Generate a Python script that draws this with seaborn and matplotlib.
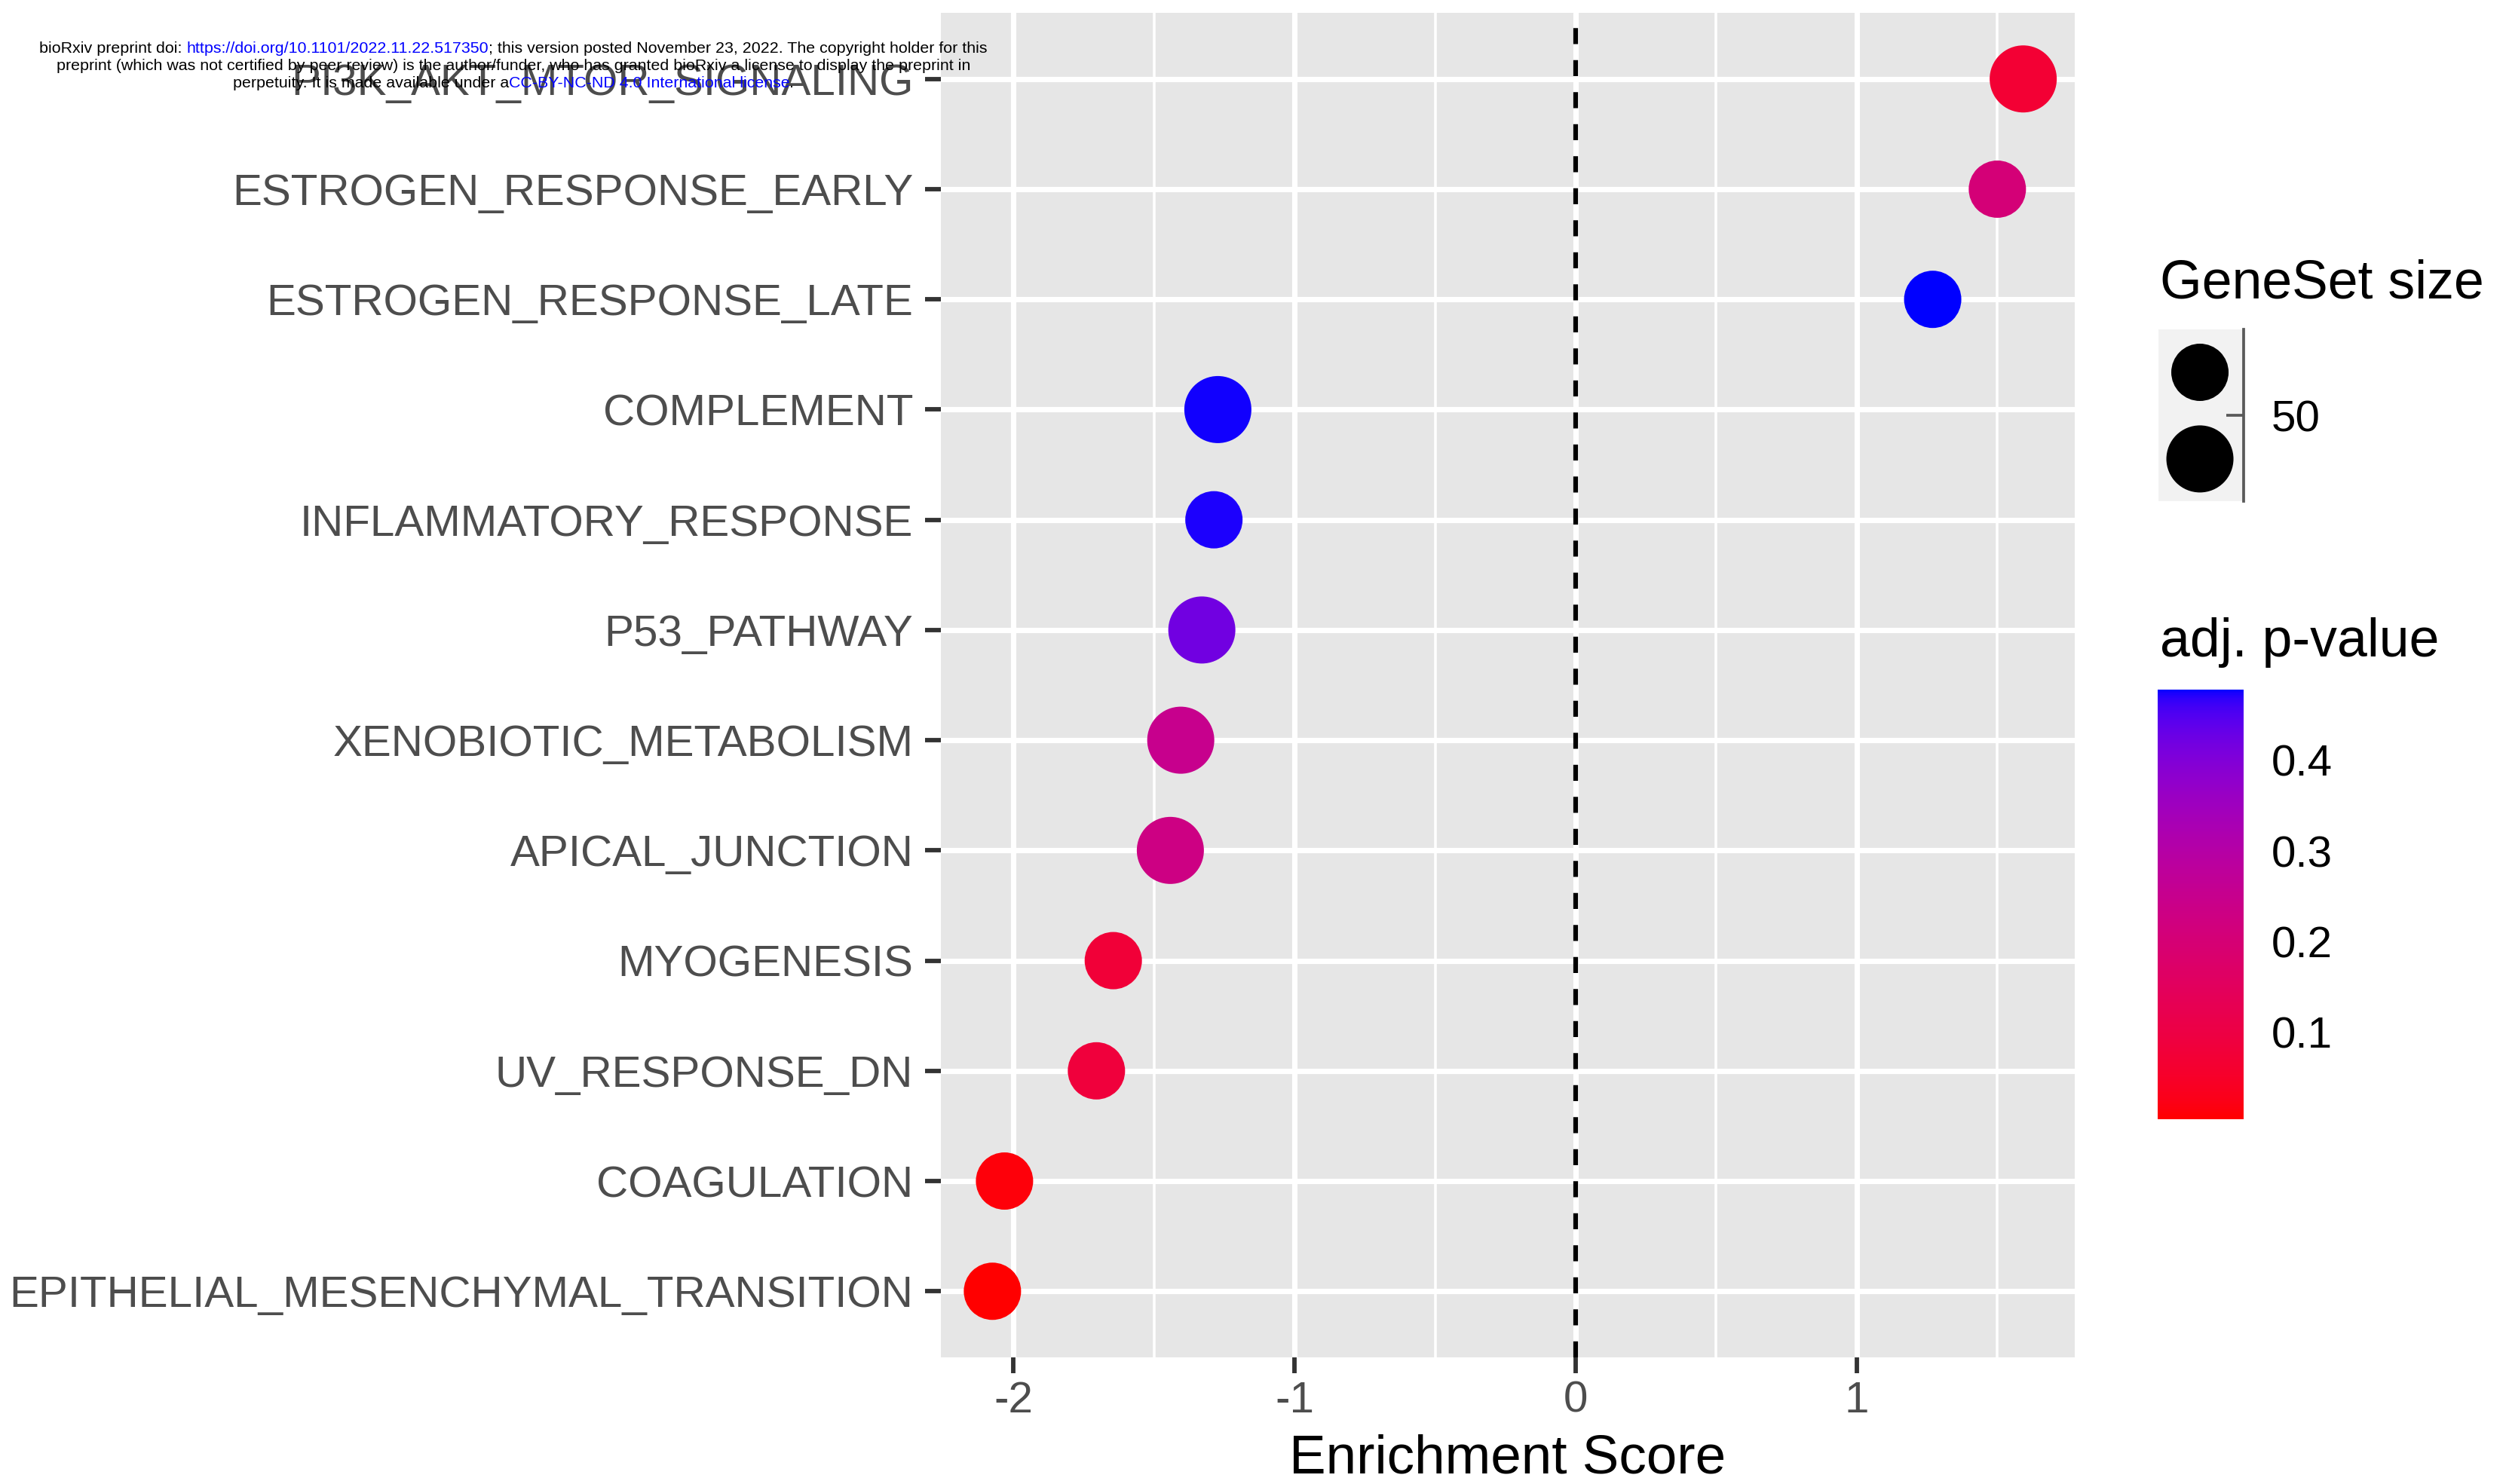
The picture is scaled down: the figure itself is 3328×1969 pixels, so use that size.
import numpy as np
import pandas as pd
import matplotlib
matplotlib.use("Agg")
import matplotlib.pyplot as plt
from matplotlib.colors import ListedColormap, Normalize
from matplotlib.cm import ScalarMappable
import seaborn as sns

# ---- data -------------------------------------------------------------
pathways = [
    "PI3K_AKT_MTOR_SIGNALING",
    "ESTROGEN_RESPONSE_EARLY",
    "ESTROGEN_RESPONSE_LATE",
    "COMPLEMENT",
    "INFLAMMATORY_RESPONSE",
    "P53_PATHWAY",
    "XENOBIOTIC_METABOLISM",
    "APICAL_JUNCTION",
    "MYOGENESIS",
    "UV_RESPONSE_DN",
    "COAGULATION",
    "EPITHELIAL_MESENCHYMAL_TRANSITION",
]
enrichment_score = [1.592, 1.500, 1.270, -1.273, -1.287, -1.330,
                    -1.405, -1.442, -1.645, -1.705, -2.032, -2.075]
adj_pvalue = [0.070, 0.205, 0.478, 0.476, 0.474, 0.420,
              0.250, 0.230, 0.078, 0.085, 0.012, 0.0044]
geneset_size = [53, 47, 47, 53, 47, 53, 53, 53, 47, 47, 47, 47]
size_breaks = [50]
pvalue_breaks = [0.1, 0.2, 0.3, 0.4]

df = pd.DataFrame({"pathway": pathways, "es": enrichment_score,
                   "padj": adj_pvalue, "setsize": geneset_size})

# ---- red -> blue gradient interpolated in CIE Lab ---------------------
def srgb_to_lab(rgb):
    rgb = np.asarray(rgb, float)
    lin = np.where(rgb <= 0.04045, rgb / 12.92, ((rgb + 0.055) / 1.055) ** 2.4)
    m = np.array([[0.4124564, 0.3575761, 0.1804375],
                  [0.2126729, 0.7151522, 0.0721750],
                  [0.0193339, 0.1191920, 0.9503041]])
    xyz = lin @ m.T / np.array([0.95047, 1.0, 1.08883])
    d = 6 / 29
    f = np.where(xyz > d ** 3, np.cbrt(xyz), xyz / (3 * d * d) + 4 / 29)
    return np.stack([116 * f[..., 1] - 16,
                     500 * (f[..., 0] - f[..., 1]),
                     200 * (f[..., 1] - f[..., 2])], axis=-1)


def lab_to_srgb(lab):
    lab = np.asarray(lab, float)
    fy = (lab[..., 0] + 16) / 116
    fx = fy + lab[..., 1] / 500
    fz = fy - lab[..., 2] / 200
    d = 6 / 29
    f = np.stack([fx, fy, fz], axis=-1)
    xyz = np.where(f > d, f ** 3, 3 * d * d * (f - 4 / 29))
    xyz = xyz * np.array([0.95047, 1.0, 1.08883])
    minv = np.array([[3.2404542, -1.5371385, -0.4985314],
                     [-0.9692660, 1.8760108, 0.0415560],
                     [0.0556434, -0.2040259, 1.0572252]])
    lin = np.clip(xyz @ minv.T, 0, 1)
    srgb = np.where(lin <= 0.0031308, 12.92 * lin,
                    1.055 * lin ** (1 / 2.4) - 0.055)
    return np.clip(srgb, 0, 1)


lab_lo = srgb_to_lab([1.0, 0.0, 0.0])
lab_hi = srgb_to_lab([0.0, 0.0, 1.0])
t = np.linspace(0, 1, 256)[:, None]
cmap = ListedColormap(lab_to_srgb(lab_lo + (lab_hi - lab_lo) * t))
norm = Normalize(df["padj"].min(), df["padj"].max())

# ---- figure ------------------------------------------------------------
W, H, DPI = 3329, 1969, 300
sns.set_theme(style="white")
plt.rcParams["font.family"] = ["Liberation Sans", "DejaVu Sans"]
plt.rcParams["axes.unicode_minus"] = False

fig = plt.figure(figsize=(W / DPI, H / DPI), dpi=DPI)
fig.patch.set_facecolor("white")


def px_axes(x0, y0, x1, y1):
    return fig.add_axes([x0 / W, 1 - y1 / H, (x1 - x0) / W, (y1 - y0) / H])


ax = px_axes(1248, 17, 2752, 1801)
ax.set_facecolor("#E6E6E6")
for sp in ax.spines.values():
    sp.set_visible(False)

d_small, d_big = 76, 89                    # marker diameters in pixels
s_small = (d_small * 72 / DPI) ** 2
s_big = (d_big * 72 / DPI) ** 2
size_min, size_max = min(geneset_size), max(geneset_size)

sns.scatterplot(data=df, x="es", y="pathway", hue="padj", size="setsize",
                sizes=(s_small, s_big), size_norm=(size_min, size_max),
                palette=cmap, hue_norm=norm, linewidth=0, legend=False,
                ax=ax, zorder=3)

ax.axvline(0, color="black", lw=1.5, dashes=(3.4, 3.4), zorder=2)

xmin, xmax = df["es"].min(), df["es"].max()
pad = 0.05 * (xmax - xmin)
ax.set_xlim(xmin - pad, xmax + pad)
n = len(pathways)
ax.set_ylim(n - 1 + 0.6, -0.6)

ax.set_xticks([-2, -1, 0, 1])
ax.set_xticklabels(["-2", "-1", "0", "1"])
ax.set_xticks([-1.5, -0.5, 0.5, 1.5], minor=True)
ax.set_axisbelow(True)
ax.grid(which="major", color="white", lw=1.7)
ax.grid(which="minor", axis="x", color="white", lw=0.85)
ax.tick_params(which="major", axis="both", direction="out", length=5,
               width=1.4, color="#333333", labelcolor="#4D4D4D",
               labelsize=14, bottom=True, left=True)
ax.tick_params(axis="y", pad=3.8)
ax.tick_params(axis="x", pad=2.4)
ax.tick_params(which="minor", length=0)

ax.set_ylabel("")
ax.set_xlabel("Enrichment Score", fontsize=17.5, color="black")
ax.xaxis.label.set_va("center")
ax.xaxis.set_label_coords(0.5, -(1936 - 1801) / (1801 - 17))

# ---- size legend -------------------------------------------------------
fig.text(2865 / W, 1 - 395 / H, "GeneSet size", fontsize=17.2,
         va="baseline", ha="left", color="black")
lax = px_axes(2863, 437, 2976, 665)
lax.set_facecolor("#F2F2F2")
lax.set_xlim(0, 1)
lax.set_ylim(0, 1)
for name, sp in lax.spines.items():
    sp.set_visible(name == "right")
lax.spines["right"].set_color("#5A5A5A")
lax.spines["right"].set_linewidth(0.9)
key_sizes = [size_min, size_max]
key_y = [0.75, 0.246]
key_s = [s_small + (v - size_min) / (size_max - size_min) * (s_big - s_small)
         for v in key_sizes]
lax.scatter([0.487, 0.487], key_y, s=key_s, c="black", linewidths=0,
            clip_on=False)
tick_y = [key_y[0] + (b - size_min) / (size_max - size_min) * (key_y[1] - key_y[0])
          for b in size_breaks]
lax.set_xticks([])
lax.yaxis.tick_right()
lax.set_yticks(tick_y)
lax.set_yticklabels([str(b) for b in size_breaks])
lax.tick_params(axis="y", direction="in", length=5.5, width=0.9,
                color="#5A5A5A", labelsize=14, labelcolor="black", pad=8.9,
                right=True, left=False)

# ---- colour bar --------------------------------------------------------
fig.text(2865 / W, 1 - 871 / H, "adj. p-value", fontsize=17.2,
         va="baseline", ha="left", color="black")
cax = px_axes(2862, 915, 2976, 1485)
cb = fig.colorbar(ScalarMappable(norm=norm, cmap=cmap), cax=cax)
cb.outline.set_visible(False)
cb.minorticks_off()
cb.set_ticks(pvalue_breaks)
cb.set_ticklabels([f"{b:.1f}" for b in pvalue_breaks])
cax.yaxis.set_ticks_position("both")
cax.tick_params(axis="y", direction="in", length=5.5, width=1.0,
                color="#F2F2F2", labelsize=14, labelcolor="black", pad=8.9,
                left=True, right=True, labelleft=False, labelright=True)

# ---- preprint notice ---------------------------------------------------
notice_lines = [
    [("bioRxiv preprint doi: ", "black"),
     ("https://doi.org/10.1101/2022.11.22.517350", "#0000FF"),
     ("; this version posted November 23, 2022. The copyright holder for this", "black")],
    [("preprint (which was not certified by peer review) is the author/funder, "
      "who has granted bioRxiv a license to display the preprint in", "black")],
    [("perpetuity. It is made available under a", "black"),
     ("CC-BY-NC-ND 4.0 International license", "#0000FF"),
     (".", "black")],
]
notice_baselines = [70, 93, 116]
notice_center = 681
renderer = fig.canvas.get_renderer()
for pieces, base in zip(notice_lines, notice_baselines):
    texts = [fig.text(0, 1 - base / H, s, color=c, fontsize=5.15,
                      va="baseline", ha="left", zorder=10) for s, c in pieces]
    widths = [tx.get_window_extent(renderer).width for tx in texts]
    x = notice_center - sum(widths) / 2
    for tx, w in zip(texts, widths):
        tx.set_x(x / W)
        x += w

fig.savefig("out.png", dpi=DPI, facecolor="white")
